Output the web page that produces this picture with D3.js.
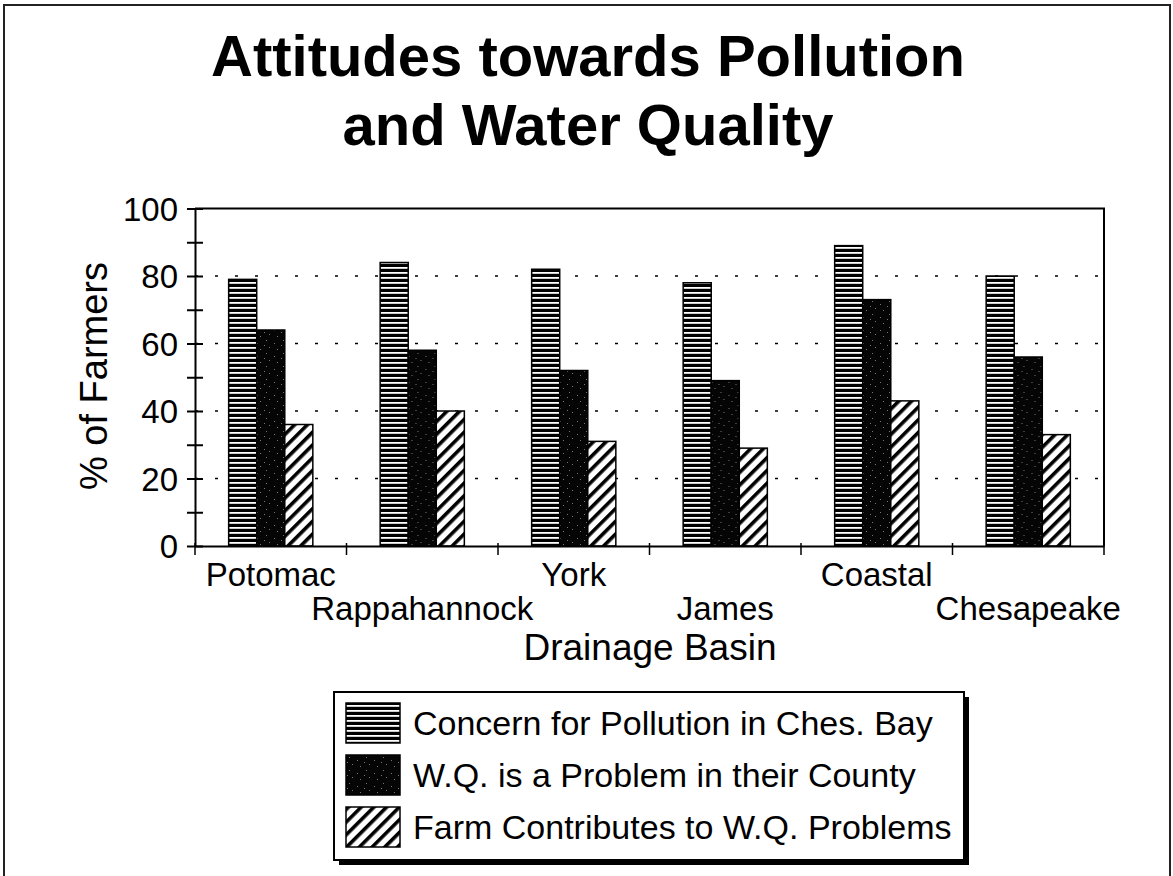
<!DOCTYPE html>
<html>
<head>
  <meta charset="utf-8">
  <title>Attitudes towards Pollution and Water Quality</title>
  <script src="https://cdn.jsdelivr.net/npm/d3@7"></script>
  <style>
    body { margin: 0; background: #fff; }
    svg text { font-family: "Liberation Sans", Arial, Helvetica, sans-serif; fill: #000; }
  </style>
</head>
<body>
<svg id="chart" width="1173" height="876"></svg>
<script>
  // data
  var basins = ['Potomac', 'Rappahannock', 'York', 'James', 'Coastal', 'Chesapeake'];
  var seriesNames = [
    'Concern for Pollution in Ches. Bay',
    'W.Q. is a Problem in their County',
    'Farm Contributes to W.Q. Problems'
  ];
  var concern = [79, 84, 82, 78, 89, 80];
  var wqProblem = [64, 58, 52, 49, 73, 56];
  var farmContrib = [36, 40, 31, 29, 43, 33];
  var yTicks = [0, 20, 40, 60, 80, 100];

  var values = [concern, wqProblem, farmContrib];

  var svg = d3.select('#chart');
  var defs = svg.append('defs');

  // horizontal stripes
  var p1 = defs.append('pattern').attr('id', 'stripes')
    .attr('patternUnits', 'userSpaceOnUse').attr('width', 10).attr('height', 5);
  p1.append('rect').attr('width', 10).attr('height', 5).attr('fill', '#000');
  p1.append('rect').attr('y', 2).attr('width', 10).attr('height', 1.8).attr('fill', '#fff');

  // dark speckled fill
  var p2 = defs.append('pattern').attr('id', 'speckle')
    .attr('patternUnits', 'userSpaceOnUse').attr('width', 17).attr('height', 13);
  p2.append('rect').attr('width', 17).attr('height', 13).attr('fill', '#050505');
  [[3, 2], [11, 5], [6, 9], [14, 11], [1, 7]].forEach(function(d) {
    p2.append('rect').attr('x', d[0]).attr('y', d[1]).attr('width', 1).attr('height', 1).attr('fill', '#777');
  });

  // diagonal hatch ///
  var p3 = defs.append('pattern').attr('id', 'hatch')
    .attr('patternUnits', 'userSpaceOnUse').attr('width', 9).attr('height', 9)
    .attr('patternTransform', 'rotate(45)');
  p3.append('rect').attr('width', 9).attr('height', 9).attr('fill', '#fff');
  p3.append('rect').attr('x', 0).attr('width', 3.6).attr('height', 9).attr('fill', '#000');

  var fills = ['url(#stripes)', 'url(#speckle)', 'url(#hatch)'];

  // page border (partial, as scanned)
  svg.append('path').attr('d', 'M4,876 V5 H1170 V876')
    .attr('fill', 'none').attr('stroke', '#222').attr('stroke-width', 2);

  // title
  var title = svg.append('text').attr('text-anchor', 'middle')
    .attr('font-size', 58).attr('font-weight', 'bold');
  title.append('tspan').attr('x', 588).attr('y', 76).text('Attitudes towards Pollution');
  title.append('tspan').attr('x', 588).attr('y', 145).text('and Water Quality');

  var plotLeft = 195, plotRight = 1104, plotTop = 208.5, plotBottom = 546;

  var x0 = d3.scaleBand().domain(basins).range([plotLeft, plotRight]);
  var x1 = d3.scaleBand().domain(d3.range(seriesNames.length))
    .range([0, x0.bandwidth()]).paddingOuter(1.2);
  var y = d3.scaleLinear().domain([0, 100]).range([plotBottom, plotTop]);

  // dotted grid
  svg.append('g').selectAll('line').data(yTicks.filter(function(t) { return t > 0 && t < 100; }))
    .join('line')
    .attr('x1', plotLeft).attr('x2', plotRight)
    .attr('y1', function(d) { return y(d); }).attr('y2', function(d) { return y(d); })
    .attr('stroke', '#000').attr('stroke-width', 1.5).attr('stroke-dasharray', '3,17');

  // bars
  var groups = svg.append('g').selectAll('g').data(basins).join('g')
    .attr('transform', function(d) { return 'translate(' + x0(d) + ',0)'; });
  groups.selectAll('rect')
    .data(function(d, i) { return values.map(function(v, s) { return {s: s, v: v[i]}; }); })
    .join('rect')
    .attr('x', function(d) { return x1(d.s); })
    .attr('y', function(d) { return y(d.v); })
    .attr('width', x1.bandwidth())
    .attr('height', function(d) { return plotBottom - y(d.v); })
    .attr('fill', function(d) { return fills[d.s]; })
    .attr('stroke', '#000').attr('stroke-width', 1.5);

  // frame: top and right
  svg.append('path').attr('d', 'M' + plotLeft + ',' + plotTop + ' H' + plotRight + ' V' + plotBottom)
    .attr('fill', 'none').attr('stroke', '#000').attr('stroke-width', 2);

  // y axis
  var yAxis = svg.append('g').attr('transform', 'translate(' + plotLeft + ',0)')
    .call(d3.axisLeft(y).tickValues(d3.range(0, 101, 10)).tickSize(0).tickFormat(''));
  yAxis.select('.domain').attr('stroke-width', 2);
  yAxis.selectAll('.tick line').attr('x1', -8).attr('x2', 8).attr('stroke-width', 2);
  svg.append('g').selectAll('text').data(yTicks).join('text')
    .attr('x', 178).attr('y', function(d) { return y(d) + 12; })
    .attr('text-anchor', 'end').attr('font-size', 33)
    .text(function(d) { return d; });

  // x axis
  var xAxis = svg.append('g').attr('transform', 'translate(0,' + plotBottom + ')')
    .call(d3.axisBottom(x0).tickSize(0).tickFormat(''));
  xAxis.select('.domain').attr('stroke-width', 2);
  xAxis.selectAll('.tick').remove();
  var bounds = basins.map(function(b) { return x0(b); }).concat([plotRight]);
  xAxis.selectAll('line.b').data(bounds).join('line').attr('class', 'b')
    .attr('x1', function(d) { return d; }).attr('x2', function(d) { return d; })
    .attr('y1', -3).attr('y2', 9).attr('stroke', '#000').attr('stroke-width', 1.5);

  svg.append('g').selectAll('text').data(basins).join('text')
    .attr('x', function(d) { return x0(d) + x0.bandwidth() / 2; })
    .attr('y', function(d, i) { return i % 2 === 0 ? 586 : 620; })
    .attr('text-anchor', 'middle').attr('font-size', 33)
    .text(function(d) { return d; });

  // axis titles
  svg.append('text').attr('x', 650).attr('y', 660).attr('text-anchor', 'middle')
    .attr('font-size', 37).text('Drainage Basin');
  svg.append('text').attr('transform', 'translate(107,376) rotate(-90)')
    .attr('text-anchor', 'middle').attr('font-size', 38).text('% of Farmers');

  // legend with drop shadow
  var lg = svg.append('g').attr('transform', 'translate(334,692)');
  lg.append('rect').attr('x', 5).attr('y', 5).attr('width', 630).attr('height', 168).attr('fill', '#000');
  lg.append('rect').attr('width', 630).attr('height', 168).attr('fill', '#fff')
    .attr('stroke', '#000').attr('stroke-width', 2);
  var items = lg.selectAll('g.item').data(seriesNames).join('g').attr('class', 'item')
    .attr('transform', function(d, i) { return 'translate(12,' + (11 + i * 52) + ')'; });
  items.append('rect').attr('width', 54).attr('height', 40)
    .attr('fill', function(d, i) { return fills[i]; })
    .attr('stroke', '#000').attr('stroke-width', 1.5);
  items.append('text').attr('x', 67).attr('y', 32).attr('font-size', 34)
    .text(function(d) { return d; });
</script>
</body>
</html>
